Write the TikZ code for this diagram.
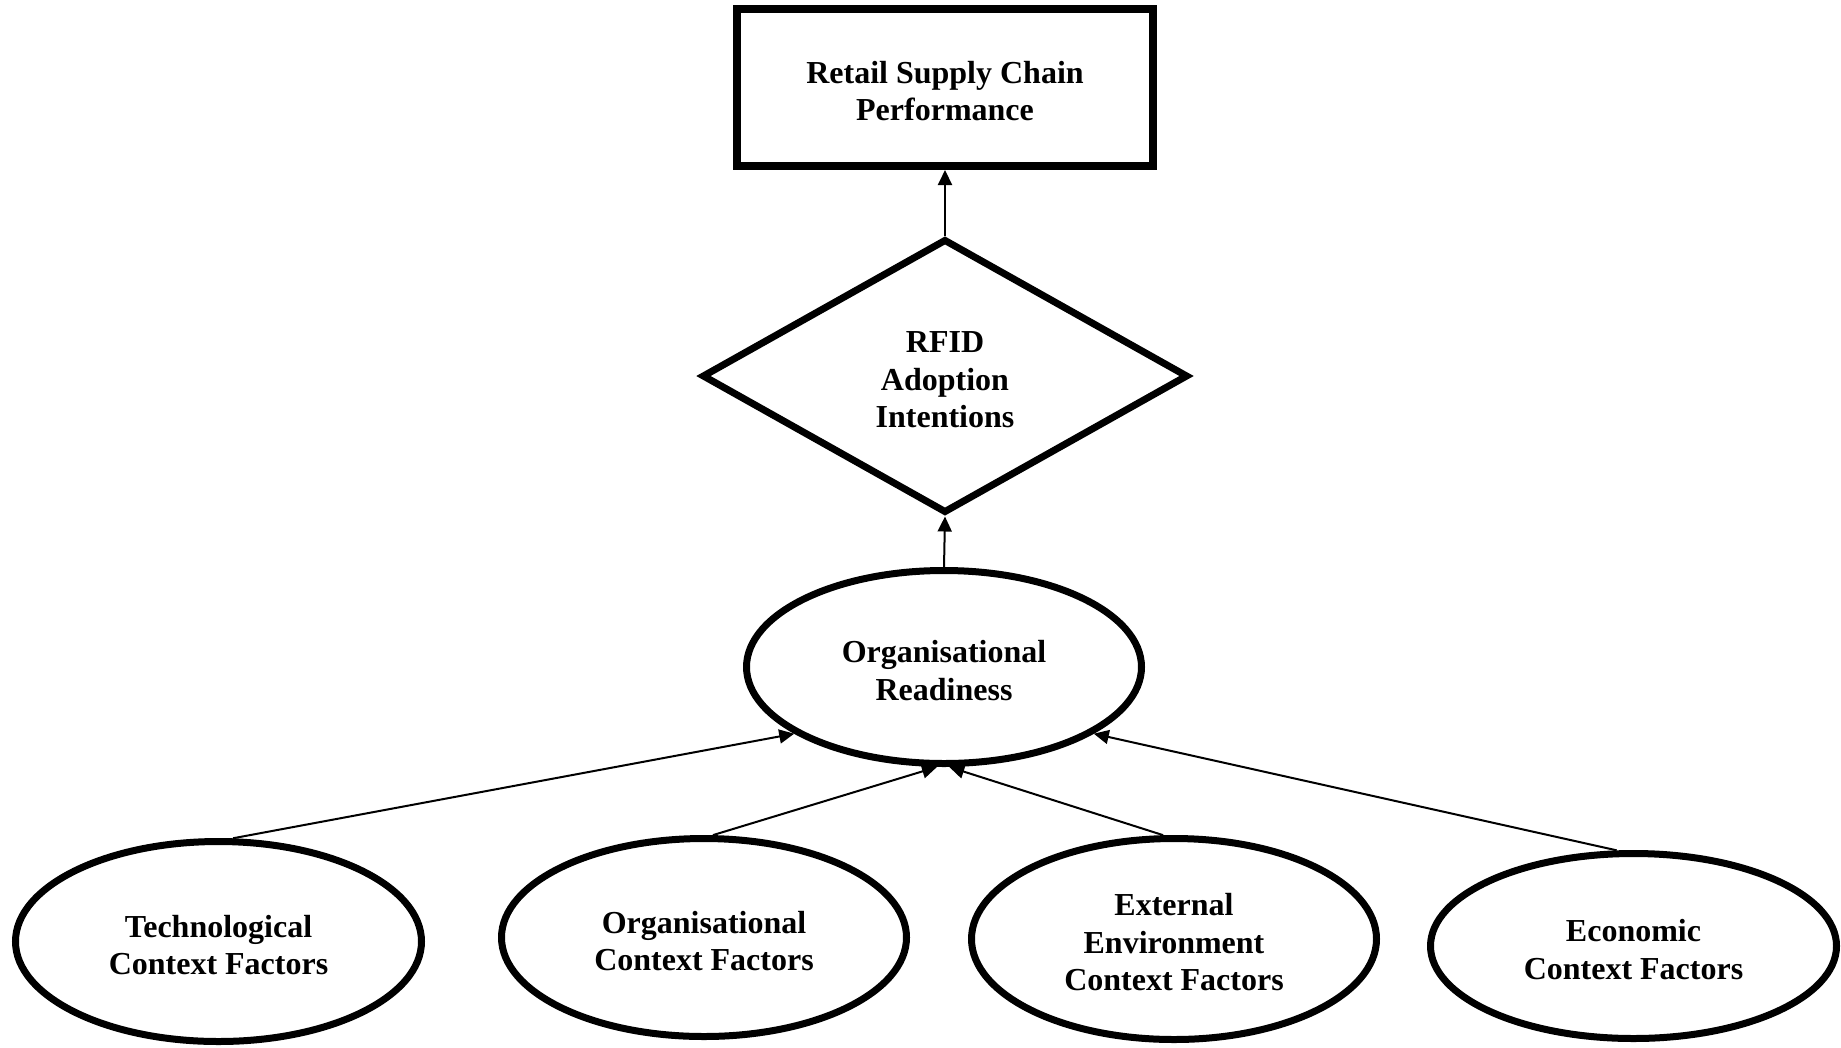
\documentclass[tikz,border=0pt]{standalone}
\usepackage{fontspec}
\setmainfont{Liberation Serif}
\usetikzlibrary{shapes.geometric,arrows.meta}
% invisible strut that lowers the text block a little inside its shape
\newcommand{\toppad}{\rule{0pt}{29pt}}
\begin{document}
\begin{tikzpicture}[x=1pt,y=-1pt,
  every node/.style={font=\fontsize{32}{37.5}\selectfont\bfseries, align=center, inner sep=0pt},
  boxnode/.style={draw, line width=8pt, rectangle, minimum width=416pt, minimum height=157pt},
  decision/.style={draw, line width=7pt, diamond, minimum width=486pt, minimum height=274pt},
  factor/.style={draw, line width=7pt, ellipse},
  link/.style={line width=2pt, -{Triangle[length=15pt,width=14pt]}}
]
\useasboundingbox (0,0) rectangle (1841,1047);

% outcome, mediator and readiness
\node[boxnode] (perf) at (945,87.5) {\toppad Retail Supply Chain\\Performance};
\node[decision] (rfid) at (945,376) {\toppad RFID\\Adoption\\Intentions};
\node[factor, minimum width=395pt, minimum height=193pt] (ready) at (944,667) {\toppad Organisational\\Readiness};

% context factors
\node[factor, minimum width=406pt, minimum height=200pt] (tech) at (218.5,941.5) {\toppad Technological\\Context Factors};
\node[factor, minimum width=405pt, minimum height=198pt] (orgc) at (704,937.5) {\toppad Organisational\\Context Factors};
\node[factor, minimum width=405pt, minimum height=201pt] (ext) at (1174,939) {\toppad External\\Environment\\Context Factors};
\node[factor, minimum width=406pt, minimum height=185pt] (econ) at (1633.5,946) {\toppad Economic\\Context Factors};

% links
\draw[link] (rfid.north) -- (perf.south);
\draw[link] (ready.north) -- (rfid.south);
\draw[link] (tech.82) -- (ready.204);
\draw[link] (orgc.85) -- (ready.266);
\draw[link] (ext.96) -- (ready.273.5);
\draw[link] (econ.100) -- (ready.336.5);
\end{tikzpicture}
\end{document}
